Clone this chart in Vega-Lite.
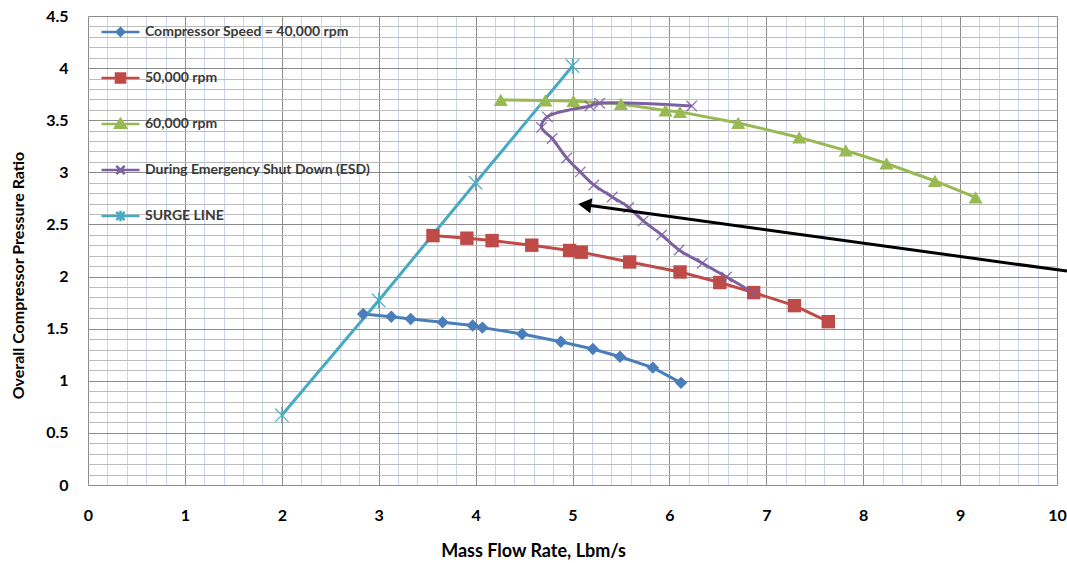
{
  "$schema": "https://vega.github.io/schema/vega-lite/v6.json",
  "width": 969,
  "height": 469,
  "autosize": {"type": "none"},
  "padding": {"left": 88, "top": 16, "right": 10, "bottom": 78},
  "background": "white",
  "config": {"view": {"stroke": null}, "font": "Lato"},
  "resolve": {"legend": {"color": "independent", "shape": "independent"}},
  "datasets": {
    "pts": [
      {"series": "Compressor Speed = 40,000 rpm", "i": 1, "x": 2.84, "y": 1.64},
      {"series": "Compressor Speed = 40,000 rpm", "i": 2, "x": 3.13, "y": 1.615},
      {"series": "Compressor Speed = 40,000 rpm", "i": 3, "x": 3.33, "y": 1.593},
      {"series": "Compressor Speed = 40,000 rpm", "i": 4, "x": 3.66, "y": 1.561},
      {"series": "Compressor Speed = 40,000 rpm", "i": 5, "x": 3.97, "y": 1.53},
      {"series": "Compressor Speed = 40,000 rpm", "i": 6, "x": 4.07, "y": 1.51},
      {"series": "Compressor Speed = 40,000 rpm", "i": 7, "x": 4.48, "y": 1.449},
      {"series": "Compressor Speed = 40,000 rpm", "i": 8, "x": 4.88, "y": 1.375},
      {"series": "Compressor Speed = 40,000 rpm", "i": 9, "x": 5.21, "y": 1.305},
      {"series": "Compressor Speed = 40,000 rpm", "i": 10, "x": 5.49, "y": 1.231},
      {"series": "Compressor Speed = 40,000 rpm", "i": 11, "x": 5.83, "y": 1.126},
      {"series": "Compressor Speed = 40,000 rpm", "i": 12, "x": 6.12, "y": 0.98},
      {"series": "50,000 rpm", "i": 1, "x": 3.56, "y": 2.393},
      {"series": "50,000 rpm", "i": 2, "x": 3.91, "y": 2.368},
      {"series": "50,000 rpm", "i": 3, "x": 4.17, "y": 2.345},
      {"series": "50,000 rpm", "i": 4, "x": 4.58, "y": 2.301},
      {"series": "50,000 rpm", "i": 5, "x": 4.97, "y": 2.25},
      {"series": "50,000 rpm", "i": 6, "x": 5.09, "y": 2.234},
      {"series": "50,000 rpm", "i": 7, "x": 5.59, "y": 2.14},
      {"series": "50,000 rpm", "i": 8, "x": 6.11, "y": 2.044},
      {"series": "50,000 rpm", "i": 9, "x": 6.52, "y": 1.943},
      {"series": "50,000 rpm", "i": 10, "x": 6.87, "y": 1.846},
      {"series": "50,000 rpm", "i": 11, "x": 7.29, "y": 1.721},
      {"series": "50,000 rpm", "i": 12, "x": 7.64, "y": 1.567},
      {"series": "60,000 rpm", "i": 1, "x": 4.26, "y": 3.695},
      {"series": "60,000 rpm", "i": 2, "x": 4.72, "y": 3.69},
      {"series": "60,000 rpm", "i": 3, "x": 5.01, "y": 3.685},
      {"series": "60,000 rpm", "i": 4, "x": 5.5, "y": 3.656},
      {"series": "60,000 rpm", "i": 5, "x": 5.96, "y": 3.594},
      {"series": "60,000 rpm", "i": 6, "x": 6.11, "y": 3.58},
      {"series": "60,000 rpm", "i": 7, "x": 6.71, "y": 3.474},
      {"series": "60,000 rpm", "i": 8, "x": 7.34, "y": 3.335},
      {"series": "60,000 rpm", "i": 9, "x": 7.82, "y": 3.21},
      {"series": "60,000 rpm", "i": 10, "x": 8.24, "y": 3.085},
      {"series": "60,000 rpm", "i": 11, "x": 8.74, "y": 2.917},
      {"series": "60,000 rpm", "i": 12, "x": 9.16, "y": 2.759},
      {"series": "During Emergency Shut Down (ESD)", "i": 1, "x": 6.23, "y": 3.637},
      {"series": "During Emergency Shut Down (ESD)", "i": 2, "x": 5.28, "y": 3.663},
      {"series": "During Emergency Shut Down (ESD)", "i": 3, "x": 5.18, "y": 3.637},
      {"series": "During Emergency Shut Down (ESD)", "i": 4, "x": 4.74, "y": 3.532},
      {"series": "During Emergency Shut Down (ESD)", "i": 5, "x": 4.68, "y": 3.431},
      {"series": "During Emergency Shut Down (ESD)", "i": 6, "x": 4.79, "y": 3.325},
      {"series": "During Emergency Shut Down (ESD)", "i": 7, "x": 4.94, "y": 3.138},
      {"series": "During Emergency Shut Down (ESD)", "i": 8, "x": 5.08, "y": 3.004},
      {"series": "During Emergency Shut Down (ESD)", "i": 9, "x": 5.22, "y": 2.879},
      {"series": "During Emergency Shut Down (ESD)", "i": 10, "x": 5.41, "y": 2.764},
      {"series": "During Emergency Shut Down (ESD)", "i": 11, "x": 5.58, "y": 2.663},
      {"series": "During Emergency Shut Down (ESD)", "i": 12, "x": 5.73, "y": 2.534},
      {"series": "During Emergency Shut Down (ESD)", "i": 13, "x": 5.92, "y": 2.399},
      {"series": "During Emergency Shut Down (ESD)", "i": 14, "x": 6.1, "y": 2.255},
      {"series": "During Emergency Shut Down (ESD)", "i": 15, "x": 6.34, "y": 2.128},
      {"series": "During Emergency Shut Down (ESD)", "i": 16, "x": 6.59, "y": 1.996},
      {"series": "During Emergency Shut Down (ESD)", "i": 17, "x": 6.87, "y": 1.843},
      {"series": "SURGE LINE", "i": 1, "x": 2, "y": 0.67},
      {"series": "SURGE LINE", "i": 2, "x": 3, "y": 1.77},
      {"series": "SURGE LINE", "i": 3, "x": 4, "y": 2.9},
      {"series": "SURGE LINE", "i": 4, "x": 5, "y": 4.02}
    ],
    "arrow": [
      {"x": 5.127, "y": 2.688, "x2": 10.103, "y2": 2.052}
    ]
  },
  "data": {"name": "pts"},
  "encoding": {
    "x": {
      "field": "x", "type": "quantitative",
      "scale": {"domain": [0, 10], "nice": false, "zero": false},
      "axis": {
        "title": "Mass Flow Rate, Lbm/s",
        "values": [0,0.2,0.4,0.6,0.8,1,1.2,1.4,1.6,1.8,2,2.2,2.4,2.6,2.8,3,3.2,3.4,3.6,3.8,4,4.2,4.4,4.6,4.8,5,5.2,5.4,5.6,5.8,6,6.2,6.4,6.6,6.8,7,7.2,7.4,7.6,7.8,8,8.2,8.4,8.6,8.8,9,9.2,9.4,9.6,9.8,10],
        "format": "~g",
        "labelExpr": "abs(datum.value - round(datum.value)) < 0.000001 ? datum.label : ''",
        "labelOverlap": false,
        "labelFlush": false,
        "labelFont": "Lato",
        "labelFontSize": 16,
        "labelFontWeight": "bold",
        "labelColor": "#000000",
        "labelPadding": 22,
        "ticks": false,
        "domain": false,
        "grid": true,
        "gridColor": {"condition": {"test": "abs(datum.value - round(datum.value)) < 0.000001", "value": "#8c8c8c"}, "value": "#c9d6ec"},
        "gridWidth": 1,
        "gridOpacity": 1,
        "titleFont": "Lato",
        "titleFontSize": 18,
        "titleFontWeight": "bold",
        "titleColor": "#000000",
        "titleX": 445,
        "titleY": 66,
        "titleBaseline": "middle",
        "titleAnchor": "middle"
      }
    },
    "y": {
      "field": "y", "type": "quantitative",
      "scale": {"domain": [0, 4.5], "nice": false, "zero": false},
      "axis": {
        "title": "Overall Compressor Pressure Ratio",
        "values": [0,0.1,0.2,0.3,0.4,0.5,0.6,0.7,0.8,0.9,1,1.1,1.2,1.3,1.4,1.5,1.6,1.7,1.8,1.9,2,2.1,2.2,2.3,2.4,2.5,2.6,2.7,2.8,2.9,3,3.1,3.2,3.3,3.4,3.5,3.6,3.7,3.8,3.9,4,4.1,4.2,4.3,4.4,4.5],
        "format": "~g",
        "labelExpr": "abs(datum.value * 2 - round(datum.value * 2)) < 0.000001 ? datum.label : ''",
        "labelOverlap": false,
        "labelFlush": false,
        "labelFont": "Lato",
        "labelFontSize": 16,
        "labelFontWeight": "bold",
        "labelColor": "#000000",
        "labelPadding": 20,
        "ticks": false,
        "domain": false,
        "grid": true,
        "gridColor": {"condition": {"test": "abs(datum.value * 2 - round(datum.value * 2)) < 0.000001", "value": "#8c8c8c"}, "value": "#bdbdbd"},
        "gridWidth": 1,
        "gridOpacity": 1,
        "titleFont": "Lato",
        "titleFontSize": 16,
        "titleFontWeight": "bold",
        "titleColor": "#000000",
        "titleX": -70,
        "titleY": 259,
        "titleAngle": -90,
        "titleAlign": "center",
        "titleBaseline": "middle"
      }
    }
  },
  "layer": [
    {
      "transform": [{"filter": "datum.series !== 'During Emergency Shut Down (ESD)'"}],
      "mark": {"type": "line", "strokeWidth": 3},
      "encoding": {
        "color": {
          "field": "series", "type": "nominal", "legend": null,
          "scale": {
            "domain": ["Compressor Speed = 40,000 rpm", "50,000 rpm", "60,000 rpm", "During Emergency Shut Down (ESD)", "SURGE LINE"],
            "range": ["#4a7ebb", "#be4b48", "#98b954", "#7d60a0", "#46aac5"]
          }
        }
      }
    },
    {
      "transform": [{"filter": "datum.series === 'During Emergency Shut Down (ESD)'"}],
      "mark": {"type": "line", "strokeWidth": 3, "interpolate": "catmull-rom"},
      "encoding": {
        "color": {"field": "series", "type": "nominal", "legend": null},
        "order": {"field": "i", "type": "quantitative"}
      }
    },
    {
      "transform": [{"filter": "datum.series === 'Compressor Speed = 40,000 rpm'"}],
      "mark": {"type": "point", "filled": true, "opacity": 1, "shape": "diamond", "size": 155},
      "encoding": {"color": {"field": "series", "type": "nominal", "legend": null}}
    },
    {
      "transform": [{"filter": "datum.series === '50,000 rpm'"}],
      "mark": {"type": "point", "filled": true, "opacity": 1, "shape": "square", "size": 180},
      "encoding": {"color": {"field": "series", "type": "nominal", "legend": null}}
    },
    {
      "transform": [{"filter": "datum.series === '60,000 rpm'"}],
      "mark": {"type": "point", "filled": true, "opacity": 1, "shape": "triangle-up", "size": 200},
      "encoding": {"color": {"field": "series", "type": "nominal", "legend": null}}
    },
    {
      "transform": [{"filter": "datum.series === 'During Emergency Shut Down (ESD)'"}],
      "mark": {"type": "point", "filled": false, "opacity": 0.85, "strokeWidth": 1.3, "shape": "M-1,-1L1,1M-1,1L1,-1", "size": 110},
      "encoding": {"color": {"field": "series", "type": "nominal", "legend": null}}
    },
    {
      "transform": [{"filter": "datum.series === 'SURGE LINE'"}],
      "mark": {"type": "point", "filled": false, "opacity": 0.9, "strokeWidth": 1.3, "shape": "M-1,-1L1,1M-1,1L1,-1M0,-1.2L0,1.2", "size": 180},
      "encoding": {"color": {"field": "series", "type": "nominal", "legend": null}}
    },
    {
      "transform": [{"filter": "datum.series === 'NONE'"}],
      "mark": {"type": "point", "filled": true, "opacity": 1},
      "encoding": {
        "color": {
          "field": "series", "type": "nominal",
          "legend": {
            "title": null,
            "orient": "none",
            "legendX": 12,
            "legendY": -3,
            "padding": 0,
            "symbolSize": 1444,
            "clipHeight": 38,
            "rowPadding": 8,
            "labelOffset": 4,
            "labelFont": "Lato",
            "labelFontSize": 14,
            "labelFontWeight": "bold",
            "labelColor": "#3a3a3a",
            "labelLimit": 400,
            "symbolOpacity": 1,
            "symbolStrokeWidth": 2.5,
            "encode": {
              "symbols": {
                "update": {
                  "fill": {"scale": "color", "field": "value"},
                  "stroke": {"scale": "color", "field": "value"},
                  "strokeWidth": {"value": 2.5},
                  "opacity": {"value": 1}
                }
              }
            }
          }
        },
        "shape": {
          "field": "series", "type": "nominal",
          "scale": {
            "domain": ["Compressor Speed = 40,000 rpm", "50,000 rpm", "60,000 rpm", "During Emergency Shut Down (ESD)", "SURGE LINE"],
            "range": [
              "M-1,0L1,0M0,-0.2L0.2,0L0,0.2L-0.2,0Z",
              "M-1,0L1,0M-0.24,-0.24L0.24,-0.24L0.24,0.24L-0.24,0.24Z",
              "M-1,0L1,0M0,-0.26L0.28,0.2L-0.28,0.2Z",
              "M-1,0L1,0M-0.22,-0.22L0.22,0.22M-0.22,0.22L0.22,-0.22",
              "M-1,0L1,0M-0.22,-0.22L0.22,0.22M-0.22,0.22L0.22,-0.22M0,-0.28L0,0.28"
            ]
          },
          "legend": {
            "title": null,
            "orient": "none",
            "legendX": 12,
            "legendY": -3,
            "padding": 0,
            "symbolSize": 1444,
            "clipHeight": 38,
            "rowPadding": 8,
            "labelOffset": 4,
            "labelFont": "Lato",
            "labelFontSize": 14,
            "labelFontWeight": "bold",
            "labelColor": "#3a3a3a",
            "labelLimit": 400,
            "symbolOpacity": 1,
            "symbolStrokeWidth": 2.5,
            "encode": {
              "symbols": {
                "update": {
                  "fill": {"scale": "color", "field": "value"},
                  "stroke": {"scale": "color", "field": "value"},
                  "strokeWidth": {"value": 2.5},
                  "opacity": {"value": 1}
                }
              }
            }
          }
        }
      }
    },
    {
      "data": {"name": "arrow"},
      "mark": {"type": "rule", "color": "#000000", "strokeWidth": 3},
      "encoding": {
        "x": {"field": "x", "type": "quantitative"},
        "y": {"field": "y", "type": "quantitative"},
        "x2": {"field": "x2"},
        "y2": {"field": "y2"}
      }
    },
    {
      "data": {"name": "arrow"},
      "mark": {"type": "point", "shape": "triangle-left", "filled": true, "opacity": 1, "color": "#000000", "size": 230, "angle": 7.8},
      "encoding": {
        "x": {"field": "x", "type": "quantitative"},
        "y": {"field": "y", "type": "quantitative"}
      }
    }
  ]
}
